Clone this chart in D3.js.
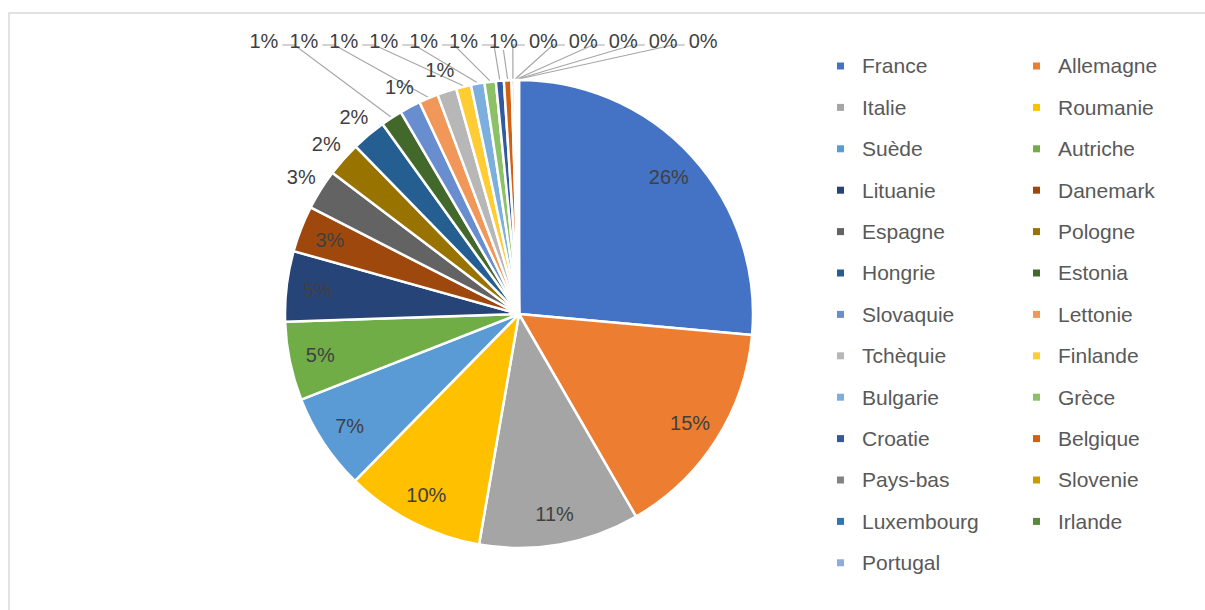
<!DOCTYPE html>
<html>
<head>
<meta charset="utf-8">
<script src="https://cdn.jsdelivr.net/npm/d3@7"></script>
<style>
body { margin: 0; background: #fff; }
text { font-family: "Liberation Sans", Arial, sans-serif; }
</style>
</head>
<body>
<div id="chart"></div>
<script>
const countries = ['France', 'Allemagne', 'Italie', 'Roumanie', 'Suède', 'Autriche', 'Lituanie', 'Danemark',
	'Espagne', 'Pologne', 'Hongrie', 'Estonia', 'Slovaquie', 'Lettonie', 'Tchèquie', 'Finlande', 'Bulgarie',
	'Grèce', 'Croatie', 'Belgique', 'Pays-bas', 'Slovenie', 'Luxembourg', 'Irlande', 'Portugal']

// share of the total
const values = [26.40, 15.22, 11.06, 9.62, 6.67, 5.42, 4.86, 3.19,
	2.78, 2.39, 2.39, 1.48, 1.44, 1.33, 1.33, 1.03, 0.93,
	0.78, 0.55, 0.52, 0.20, 0.12, 0.08, 0.06, 0.05]

const colours = ['#4472C4', '#ED7D31', '#A5A5A5', '#FFC000', '#5B9BD5', '#70AD47', '#264478', '#9E480E',
	'#636363', '#997300', '#255E91', '#43682B', '#698ED0', '#F1975A', '#B7B7B7', '#FFCD33', '#7CAFDD',
	'#8CC168', '#335AA1', '#D26012', '#848484', '#CC9A00', '#2E75B6', '#5A8A39', '#8FAADC']

const width = 1205
const height = 610
const cx = 519, cy = 314, radius = 234

const svg = d3.select('#chart')
.append('svg')
.attr('width', width)
.attr('height', height)

svg.append('rect')
.attr('x', 9)
.attr('y', 13)
.attr('width', width)
.attr('height', height)
.attr('fill', 'none')
.attr('stroke', '#d9d9d9')
.attr('stroke-width', 1.5)

const data = countries.map((c, i) => ({country: c, value: values[i], colour: colours[i]}))
const total = d3.sum(values)
const pct = d3.format('.0%')

const pie = d3.pie().sort(null).value(d => d.value)
const arc = d3.arc().innerRadius(0).outerRadius(radius)
const arcs = pie(data)

const graph = svg.append('g').attr('transform', `translate(${cx},${cy})`)
const leaders = graph.append('g')
const slices = graph.append('g')
const labels = graph.append('g')

slices.selectAll('path')
.data(arcs)
.enter()
.append('path')
.attr('d', arc)
.attr('fill', d => d.data.colour)
.attr('stroke', '#fff')
.attr('stroke-width', 2.5)
.attr('stroke-linejoin', 'round')

const mid = d => (d.startAngle + d.endAngle) / 2
const polar = (a, r) => [Math.sin(a) * r, -Math.cos(a) * r]

const inside = arcs.filter(d => d.endAngle - d.startAngle >= 0.19)
const outside = arcs.filter(d => d.endAngle - d.startAngle < 0.19)

labels.selectAll('text.in')
.data(inside)
.enter()
.append('text')
.attr('class', 'in')
.attr('x', d => polar(mid(d), 203)[0])
.attr('y', d => polar(mid(d), 203)[1])
.attr('dy', '0.35em')
.attr('text-anchor', 'middle')
.attr('fill', '#404040')
.style('font-size', '20px')
.text(d => pct(d.value / total))

// outside labels: keep near the slice when free, otherwise send to a top row
const topRow = 41 - cy
let placed = []
let queued = []

outside.forEach(d => {
	let [x, y] = polar(mid(d), radius + 23)
	let hit = placed.some(p => Math.abs(p.x - x) < 33 && Math.abs(p.y - y) < 21)
	if (hit || y < topRow + 22) queued.push({d, x, y})
	else placed.push({d, x, y})
})

let xs = dodge(queued.map(q => q.x), 40, 400)
queued.forEach((q, i) => { q.x = xs[i]; q.y = topRow })

labels.selectAll('text.out')
.data(placed.concat(queued))
.enter()
.append('text')
.attr('class', 'out')
.attr('x', d => d.x)
.attr('y', d => d.y)
.attr('dy', '0.35em')
.attr('text-anchor', 'middle')
.attr('fill', '#404040')
.style('font-size', '20px')
.text(d => pct(d.d.value / total))

const line = d3.line()

queued.forEach(q => {
	let [ax, ay] = polar(mid(q.d), radius + 1)
	let w = 29
	let pts
	if (ax > q.x + w / 2 + 8) {
		pts = [[q.x + w / 2 + 4, q.y + 4], [q.x + w / 2 + 16, q.y + 4], [ax, ay]]
	} else if (ax < q.x - w / 2 - 8) {
		pts = [[q.x - w / 2 - 4, q.y + 4], [q.x - w / 2 - 16, q.y + 4], [ax, ay]]
	} else {
		pts = [[q.x, q.y + 9], [ax, ay]]
	}
	leaders.append('path')
	.attr('d', line(pts))
	.attr('fill', 'none')
	.attr('stroke', '#a6a6a6')
	.attr('stroke-width', 1.2)
})

const legend = svg.append('g')

const items = legend.selectAll('g')
.data(data)
.enter()
.append('g')
.attr('transform', (d, i) => `translate(${837 + (i % 2) * 196},${66 + Math.floor(i / 2) * 41.4})`)

items.append('rect')
.attr('x', 0)
.attr('y', -3.5)
.attr('width', 7)
.attr('height', 7)
.attr('fill', d => d.colour)

items.append('text')
.attr('x', 25)
.attr('dy', '0.35em')
.attr('fill', '#595959')
.style('font-size', '21px')
.text(d => d.country)

function dodge(positions, separation = 35, maxiter = 10, maxerror = 1e-1) {
	positions = Array.from(positions)
	let n = positions.length
	if (!(n > 1)) return positions
	let index = d3.range(n)
	for (let iter = 0; iter < maxiter; ++iter) {
		index.sort((i, j) => d3.ascending(positions[i], positions[j]))
		let error = 0
		for (let i = 1; i < n; ++i) {
			let delta = positions[index[i]] - positions[index[i - 1]]
			if (delta < separation) {
				delta = (separation - delta) / 2
				error = Math.max(error, delta)
				positions[index[i - 1]] -= delta
				positions[index[i]] += delta
			}
		}
		if (error < maxerror) break
	}
	return positions
}
</script>
</body>
</html>
